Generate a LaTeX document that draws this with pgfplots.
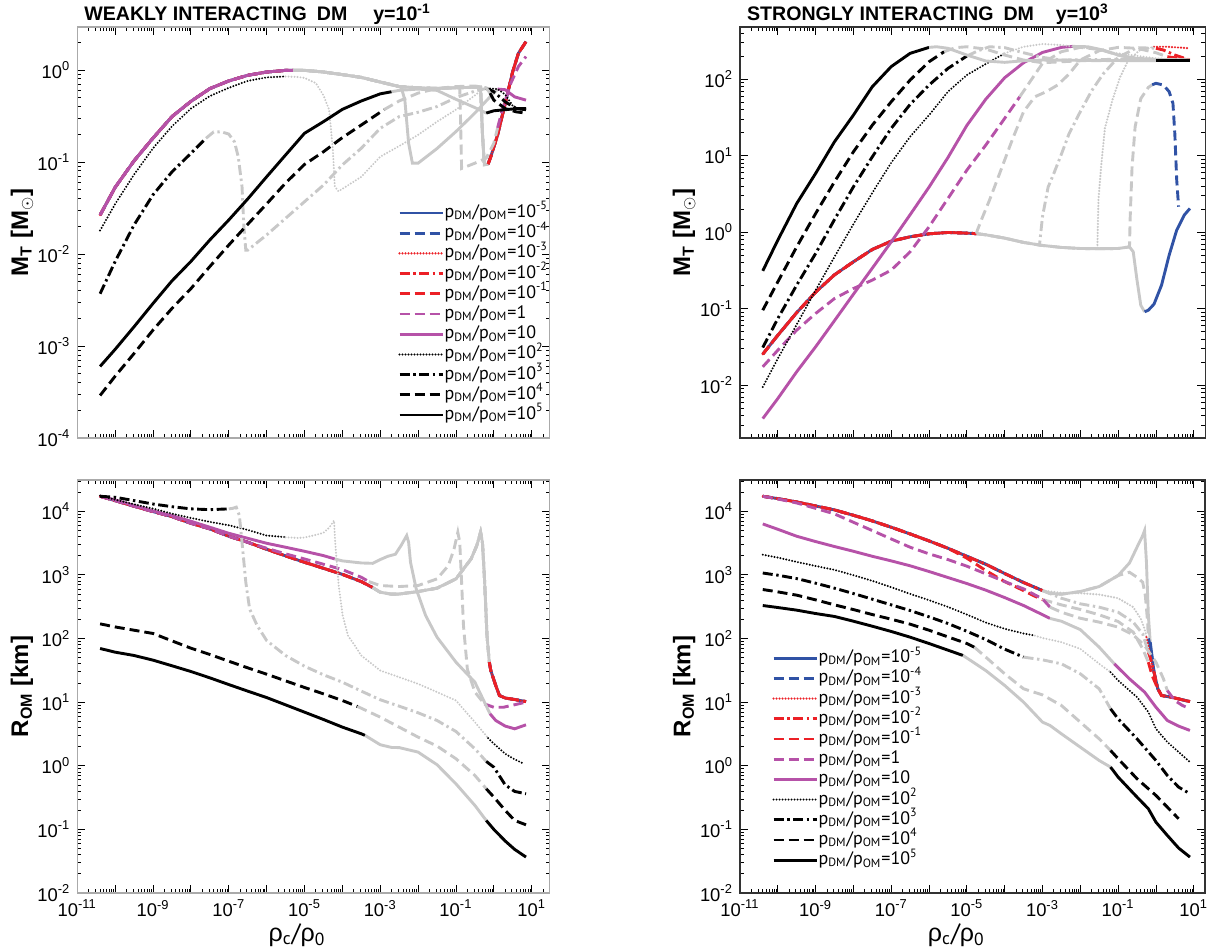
\documentclass[border=0pt]{standalone}
\usepackage{pgfplots}
\usepackage{pgfplotstable}
\pgfplotsset{compat=1.18}
\usepackage{fontspec}
\setmainfont{PT Sans}
\newfontfamily\lsans{Liberation Sans}
\definecolor{cB}{RGB}{48,82,165}
\definecolor{cR}{RGB}{236,32,38}
\definecolor{cM}{RGB}{182,82,168}
\definecolor{cG}{RGB}{200,200,200}
\def\minorX{2e-11}%
\foreach \e in {-11,...,0}{\foreach \m in {2,...,9}{\xdef\minorX{\minorX,\m e\e}}}%
\xdef\minorX{\minorX,2e1}%
\def\minorA{2e-4}%
\foreach \e in {-4,...,-1}{\foreach \m in {2,...,9}{\xdef\minorA{\minorA,\m e\e}}}%
\xdef\minorA{\minorA,2e0}%
\def\minorB{3e-3,4e-3,5e-3,6e-3,7e-3,8e-3,9e-3}%
\foreach \e in {-2,...,1}{\foreach \m in {2,...,9}{\xdef\minorB{\minorB,\m e\e}}}%
\xdef\minorB{\minorB,2e2,3e2,4e2}%
\def\minorC{2e-2}%
\foreach \e in {-2,...,3}{\foreach \m in {2,...,9}{\xdef\minorC{\minorC,\m e\e}}}%
\xdef\minorC{\minorC,2e4,3e4}%
\pgfplotsset{
 lwd/.style={line width=1.45pt},
 s1/.style={cB,lwd,solid},
 s2/.style={cB,lwd,dash pattern=on 5pt off 2.5pt},
 s3/.style={cR,line width=1.2pt,line cap=round,dash pattern=on 0pt off 1.5pt},
 s4/.style={cR,lwd,dash pattern=on 5pt off 1.8pt on 1.2pt off 1.8pt},
 s5/.style={cR,lwd,dash pattern=on 5pt off 2.5pt},
 s6/.style={cM,lwd,dash pattern=on 5pt off 2.5pt},
 s7/.style={cM,lwd,solid},
 s8/.style={black,line width=1.1pt,line cap=round,dash pattern=on 0pt off 1.5pt},
 s9/.style={black,lwd,dash pattern=on 5pt off 1.8pt on 1.2pt off 1.8pt},
 s10/.style={black,lwd,dash pattern=on 5pt off 2.5pt},
 s11/.style={black,lwd,solid},
 gr/.style={cG,forget plot},
 fp/.style={forget plot},
 legend image code/.code={\draw[#1] (0pt,0pt) -- (21.5pt,0pt);},
 every axis title shift=0pt,
 every axis/.append style={
  xmode=log, ymode=log, scale only axis, xmin=1e-11,
  xtick={1e-11,1e-10,1e-9,1e-8,1e-7,1e-6,1e-5,1e-4,1e-3,1e-2,1e-1,1,10},
  xticklabels={},
  tick align=inside, major tick length=4pt, minor tick length=2pt,
  tick style={black,line width=0.4pt},
  tick label style={font=\lsans\fontsize{9.2}{10}\selectfont},
  no markers, clip=true,
  label style={font=\lsans\bfseries\fontsize{12}{13}\selectfont},
  ylabel style={at={(axis description cs:-0.117,0.5)},anchor=center},
  xlabel style={at={(axis description cs:0.465,0)},anchor=center,yshift=-21pt,font=\fontsize{12.5}{13}\selectfont},
  title style={at={(axis description cs:0,1)},anchor=base west,yshift=3.3pt,font=\lsans\bfseries\fontsize{9.8}{11}\selectfont},
  legend style={draw=none,fill=none,inner sep=0pt,outer sep=0pt,font=\fontsize{9}{10}\selectfont,row sep=0pt,cells={anchor=west},nodes={inner sep=0.3pt,text height=7pt,text depth=2.5pt}},
 },
}
% shared data
\pgfplotstableread{
x y
4e-11 0.0265
1e-10 0.053
3.16e-10 0.103
1e-9 0.182
3.16e-9 0.311
1e-8 0.456
3.16e-8 0.627
1e-7 0.76
3.16e-7 0.875
1e-6 0.95
3.16e-6 0.99
5e-6 0.99
}\tlHead
\pgfplotstableread{
x y
5e-6 0.99
1e-5 0.99
3.16e-5 0.95
1e-4 0.89
3.16e-4 0.83
1e-3 0.74
3.16e-3 0.66
1e-2 0.64
3.16e-2 0.63
0.1 0.64
0.316 0.65
0.447 0.65
0.5 0.205
0.562 0.093
0.708 0.095
}\tlMid
\pgfplotstableread{
x y
0.708 0.095
0.832 0.114
1.26 0.197
2.0 0.434
3.16 0.96
4.47 1.52
7.08 2.03
}\tlTail
\pgfplotstableread{
x y
4e-11 17200
1e-10 14700
3.16e-10 12000
1e-9 9890
3.16e-9 8240
1e-8 6480
3.16e-8 5290
1e-7 4050
3.16e-7 3260
1e-6 2530
3.16e-6 1990
1e-5 1580
3.16e-5 1270
1e-4 1020
3.16e-4 785
6.31e-4 632
}\blHead
\pgfplotstableread{
x y
6.31e-4 632
1e-3 534
2e-3 497
3.16e-3 500
1e-2 547
3.16e-2 618
0.1 865
0.251 1780
0.355 2890
0.447 4680
0.5 3260
0.562 977
0.661 111
0.759 42.5
}\blMid
\pgfplotstableread{
x y
0.759 42.5
0.832 31.4
1.122 18.3
1.41 12.7
2.0 11.6
3.55 11.0
7.08 10.2
}\blTail
\pgfplotstableread{
x y
4e-11 0.0255
1e-10 0.045
3.16e-10 0.089
1e-9 0.165
3.16e-9 0.278
1e-8 0.411
3.16e-8 0.596
1e-7 0.766
3.16e-7 0.873
1e-6 0.955
3.16e-6 0.995
1e-5 0.975
1.78e-5 0.96
}\trHead
\pgfplotstableread{
x y
4e-11 17200
1e-10 15800
3.16e-10 14000
1e-9 12100
3.16e-9 10500
1e-8 8650
3.16e-8 7050
1e-7 5610
3.16e-7 4400
1e-6 3420
3.16e-6 2620
1e-5 1960
3.16e-5 1470
1e-4 1050
3.16e-4 759
1e-3 567
}\brHead
\pgfplotstableread{
x y
0.631 61
0.708 50
0.891 29.6
1.122 16.2
1.41 12.7
2.51 12.0
7.94 10.2
}\brTail
\begin{document}%
\begin{tikzpicture}
\useasboundingbox (0,0) rectangle (606pt,475pt);
% ================= TOP LEFT =================
\begin{axis}[at={(38.65pt,256pt)}, anchor=south west, width=236.2pt, height=205.5pt,
 xmax=29.9, ymin=1e-4, ymax=2.93,
 minor xtick/.expand once=\minorX, minor ytick/.expand once=\minorA,
 ytick={1e-4,1e-3,1e-2,1e-1,1},
 yticklabels={10\textsuperscript{-4},10\textsuperscript{-3},10\textsuperscript{-2},10\textsuperscript{-1},10\textsuperscript{0}},
 axis line style={cG!85!black,line width=0.7pt},
 ylabel={M\textsubscript{T} [M\textsubscript{$\odot$}]},
 title={WEAKLY INTERACTING\hspace{5pt}DM\hspace{13pt}y=10\textsuperscript{-1}},
 legend style={at={(0.679,0.572)},anchor=north west}]
% p <= 0.1
\addplot[s1] table {\tlHead}; \addlegendentry{p\textsubscript{DM}/p\textsubscript{OM}=10\textsuperscript{-5}}
\addplot[s1,gr] table {\tlMid}; \addplot[s1,fp] table {\tlTail};
\addplot[s2] table {\tlHead}; \addlegendentry{p\textsubscript{DM}/p\textsubscript{OM}=10\textsuperscript{-4}}
\addplot[s2,gr] table {\tlMid}; \addplot[s2,fp] table {\tlTail};
\addplot[s3] table {\tlHead}; \addlegendentry{p\textsubscript{DM}/p\textsubscript{OM}=10\textsuperscript{-3}}
\addplot[s3,gr] table {\tlMid}; \addplot[s3,fp] table {\tlTail};
\addplot[s4] table {\tlHead}; \addlegendentry{p\textsubscript{DM}/p\textsubscript{OM}=10\textsuperscript{-2}}
\addplot[s4,gr] table {\tlMid}; \addplot[s4,fp] table {\tlTail};
\addplot[s5] table {\tlHead}; \addlegendentry{p\textsubscript{DM}/p\textsubscript{OM}=10\textsuperscript{-1}}
\addplot[s5,gr] table {\tlMid}; \addplot[s5,fp] table {\tlTail};
% p = 1
\addplot[s6] table {\tlHead}; \addlegendentry{p\textsubscript{DM}/p\textsubscript{OM}=1}
\addplot[s6,gr] coordinates {(5e-6,0.99)(1e-5,0.99)(3.16e-5,0.95)(1e-4,0.89)(3.16e-4,0.83)(1e-3,0.74)(3.16e-3,0.66)(1e-2,0.64)(3.16e-2,0.63)(0.1,0.64)(0.126,0.64)(0.132,0.3)(0.141,0.085)(0.316,0.097)(0.631,0.11)(1,0.16)(1.26,0.235)};
\addplot[s6,fp] coordinates {(1.26,0.235)(1.585,0.34)(2.82,0.72)(4.47,1.09)(7.08,1.4)};
% p = 10
\addplot[s7] table {\tlHead}; \addlegendentry{p\textsubscript{DM}/p\textsubscript{OM}=10}
\addplot[s7,gr] coordinates {(5e-6,0.99)(1e-5,0.99)(3.16e-5,0.95)(1e-4,0.89)(3.16e-4,0.83)(1e-3,0.74)(3.16e-3,0.66)(3.55e-3,0.66)(4.47e-3,0.47)(5.62e-3,0.16)(7.08e-3,0.097)(1e-2,0.097)(3.16e-2,0.14)(0.1,0.214)(0.316,0.34)(0.794,0.51)(1.26,0.62)};
\addplot[s7,fp] coordinates {(1.26,0.62)(2.0,0.61)(3.55,0.51)(7.08,0.47)};
% p = 1e2
\addplot[s8] coordinates {(4e-11,0.018)(1e-10,0.035)(3.16e-10,0.073)(1e-9,0.141)(3.16e-9,0.244)(1e-8,0.38)(3.16e-8,0.52)(1e-7,0.64)(3.16e-7,0.76)(1e-6,0.83)(3.16e-6,0.85)}; \addlegendentry{p\textsubscript{DM}/p\textsubscript{OM}=10\textsuperscript{2}}
\addplot[s8,gr] coordinates {(3.16e-6,0.85)(6.31e-6,0.84)(1e-5,0.82)(2e-5,0.72)(3.16e-5,0.53)(4.47e-5,0.37)(5.62e-5,0.135)(6.31e-5,0.054)(7.94e-5,0.048)(3.16e-4,0.069)(1e-3,0.114)(3.16e-3,0.149)(1e-2,0.197)(3.16e-2,0.274)(0.1,0.37)(0.316,0.53)(0.5,0.61)(0.794,0.63)};
\addplot[s8,fp] coordinates {(0.794,0.63)(1.26,0.62)(2.0,0.54)(3.55,0.38)};
% p = 1e3
\addplot[s9] coordinates {(4e-11,0.0037)(1e-10,0.0083)(3.16e-10,0.0207)(1e-9,0.044)(3.16e-9,0.078)(1e-8,0.124)(2.51e-8,0.181)}; \addlegendentry{p\textsubscript{DM}/p\textsubscript{OM}=10\textsuperscript{3}}
\addplot[s9,gr] coordinates {(2.51e-8,0.181)(3.98e-8,0.212)(6.31e-8,0.213)(1e-7,0.201)(1.41e-7,0.166)(1.78e-7,0.114)(2.24e-7,0.054)(2.51e-7,0.0198)(2.82e-7,0.011)(3.16e-7,0.011)(1e-6,0.0161)(3.16e-6,0.0244)(1e-5,0.037)(3.16e-5,0.056)(1e-4,0.093)(3.16e-4,0.141)(1e-3,0.232)(3.16e-3,0.311)(1e-2,0.347)(3.16e-2,0.40)(0.1,0.50)(0.316,0.59)(0.631,0.63)};
\addplot[s9,fp] coordinates {(0.631,0.63)(1,0.58)(2.0,0.45)(3.98,0.38)(7.08,0.37)};
% p = 1e4
\addplot[s10] coordinates {(4e-11,2.9e-4)(1e-10,4.7e-4)(3.16e-10,8.3e-4)(1e-9,1.49e-3)(3.16e-9,2.56e-3)(1e-8,4.2e-3)(3.16e-8,7.3e-3)(1e-7,0.0125)(3.16e-7,0.021)(1e-6,0.035)(3.16e-6,0.059)(1e-5,0.094)(3.16e-5,0.129)(1e-4,0.184)(3.16e-4,0.252)(1e-3,0.347)(1.26e-3,0.37)}; \addlegendentry{p\textsubscript{DM}/p\textsubscript{OM}=10\textsuperscript{4}}
\addplot[s10,gr] coordinates {(1.26e-3,0.37)(3.16e-3,0.46)(1e-2,0.56)(3.16e-2,0.63)(0.1,0.66)(0.316,0.67)(0.631,0.64)(0.794,0.56)};
\addplot[s10,fp] coordinates {(0.794,0.56)(1,0.47)(2,0.38)(3.98,0.35)(7.08,0.34)};
% p = 1e5
\addplot[s11] coordinates {(4e-11,6.0e-4)(1e-10,9.2e-4)(3.16e-10,1.62e-3)(1e-9,2.9e-3)(3.16e-9,5.1e-3)(1e-8,8.3e-3)(3.16e-8,0.0142)(1e-7,0.0234)(3.16e-7,0.0396)(1e-6,0.069)(3.16e-6,0.119)(1e-5,0.205)(3.16e-5,0.274)(1e-4,0.373)(3.16e-4,0.46)(1e-3,0.55)(2e-3,0.58)}; \addlegendentry{p\textsubscript{DM}/p\textsubscript{OM}=10\textsuperscript{5}}
\addplot[s11,gr] coordinates {(2e-3,0.58)(3.16e-3,0.60)(1e-2,0.62)(3.16e-2,0.60)(0.1,0.48)(0.316,0.39)(0.631,0.34)};
\addplot[s11,fp] coordinates {(0.631,0.34)(1,0.36)(2,0.37)(3.98,0.38)(7.08,0.38)};
\end{axis}
% ================= TOP RIGHT =================
\begin{axis}[at={(370pt,256pt)}, anchor=south west, width=232.6pt, height=205.5pt,
 xmax=20.1, ymin=2.04e-3, ymax=484,
 minor xtick/.expand once=\minorX, minor ytick/.expand once=\minorB,
 ytick={1e-2,1e-1,1,10,100},
 yticklabels={10\textsuperscript{-2},10\textsuperscript{-1},10\textsuperscript{0},10\textsuperscript{1},10\textsuperscript{2}},
 axis line style={black!80,line width=0.7pt},
 ylabel={M\textsubscript{T} [M\textsubscript{$\odot$}]},
 ylabel style={at={(axis description cs:-0.12,0.5)}},
 title={STRONGLY INTERACTING\hspace{5pt}DM\hspace{11pt}y=10\textsuperscript{3}}]
% 1e-5
\addplot[s1] table {\trHead};
\addplot[s1,gr] coordinates {(1.78e-5,0.96)(3.16e-5,0.927)(1e-4,0.839)(3.16e-4,0.737)(1e-3,0.673)(3.16e-3,0.634)(1e-2,0.614)(3.16e-2,0.61)(0.1,0.614)(0.2,0.645)(0.251,0.556)(0.316,0.237)(0.398,0.111)(0.501,0.0912)};
\addplot[s1,fp] coordinates {(0.501,0.0912)(0.631,0.0958)(0.891,0.115)(1.41,0.204)(2.24,0.503)(3.55,1.07)(5.62,1.68)(7.94,2.05)};
% 1e-4
\addplot[s2] table {\trHead};
\addplot[s2,gr] coordinates {(1.78e-5,0.96)(3.16e-5,0.927)(1e-4,0.839)(3.16e-4,0.737)(1e-3,0.673)(3.16e-3,0.634)(1e-2,0.614)(3.16e-2,0.61)(0.1,0.614)(0.2,0.645)(0.209,1.6)(0.234,7.2)(0.282,24)(0.398,56)(0.631,78.5)(0.794,85)};
\addplot[s2,fp] coordinates {(0.794,85)(1,88.7)(1.585,84.3)(2.24,69)(2.82,48.5)(3.16,19.6)(3.55,4.8)(3.98,2.16)};
% 1e-3
\addplot[s3] table {\trHead};
\addplot[s3,gr] coordinates {(1.78e-5,0.96)(3.16e-5,0.927)(1e-4,0.839)(3.16e-4,0.737)(1e-3,0.673)(3.16e-3,0.634)(1e-2,0.614)(2.82e-2,0.61)(3.02e-2,2.64)(3.55e-2,7.2)(4.47e-2,22.9)(7.08e-2,53.7)(0.112,106)(0.178,170)(0.355,237)(0.891,267)};
\addplot[s3,fp] coordinates {(0.891,267)(2,267)(7.94,255)};
% 1e-2
\addplot[s4] table {\trHead};
\addplot[s4,gr] coordinates {(1.78e-5,0.96)(3.16e-5,0.927)(1e-4,0.839)(3.16e-4,0.737)(8.32e-4,0.68)(1e-3,1.6)(1.41e-3,3.9)(2e-3,5.9)(3.16e-3,10.5)(5.01e-3,19.3)(1e-2,37.8)(2e-2,71)(3.98e-2,117)(0.1,194)(0.316,260)(1,255)};
\addplot[s4,fp] coordinates {(1,255)(1.585,242)(3.16,208)(7.94,179)};
% 1e-1
\addplot[s5] table {\trHead};
\addplot[s5,gr] coordinates {(1.78e-5,0.96)(1.905e-5,1.07)(2.51e-5,1.52)(3.98e-5,2.64)(7.94e-5,6.5)(1.58e-4,16.1)(3.16e-4,37.8)(6.31e-4,59.3)(1.26e-3,69)(2.51e-3,84.3)(5.01e-3,117)(1e-2,179)(3.16e-2,237)(0.1,262)(0.316,255)(1,223)(2,198)};
\addplot[s5,fp] coordinates {(2,198)(7.94,179)};
% 1
\addplot[s6] coordinates {(4e-11,0.0174)(1e-10,0.0287)(3.16e-10,0.0525)(1e-9,0.0867)(3.16e-9,0.136)(1e-8,0.184)(3.16e-8,0.237)(1e-7,0.32)(3.16e-7,0.556)(1e-6,1.18)(3.16e-6,2.77)(1e-5,6.5)(3.16e-5,13.8)(1e-4,30.9)(2.51e-4,59.3)};
\addplot[s6,gr] coordinates {(2.51e-4,59.3)(5.01e-4,98)(1e-3,162)(3.16e-3,230)(1e-2,262)(3.16e-2,247)(0.1,208)(0.316,183)(2,179)(7.94,179)};
% 10
\addplot[s7] coordinates {(4e-11,3.66e-3)(1e-10,6.7e-3)(3.16e-10,0.015)(1e-9,0.0318)(3.16e-9,0.07)(1e-8,0.155)(3.16e-8,0.34)(1e-7,0.75)(3.16e-7,1.7)(1e-6,3.9)(3.16e-6,9.5)(1e-5,25)(3.16e-5,55)(1e-4,105)(3.16e-4,165)(1e-3,225)(3.16e-3,262)(6.31e-3,270)};
\addplot[s7,gr] coordinates {(6.31e-3,270)(1.58e-2,267)(3.98e-2,242)(0.1,208)(0.316,188)(1,183)(7.94,179)};
% 1e2
\addplot[s8] coordinates {(4e-11,9.5e-3)(1e-10,0.0223)(3.16e-10,0.0622)(1e-9,0.175)(3.16e-9,0.478)(1e-8,1.28)(3.16e-8,3.29)(1e-7,8.13)(3.16e-7,17.8)(1e-6,34.1)(3.16e-6,69)(1e-5,114)(3.16e-5,159)(1e-4,219)};
\addplot[s8,gr] coordinates {(1e-4,219)(3.16e-4,267)(1e-3,290)(3.16e-3,281)(1e-2,262)(0.1,219)(1,188)(7.94,179)};
% 1e3
\addplot[s9] coordinates {(4e-11,0.0311)(1e-10,0.0745)(3.16e-10,0.204)(1e-9,0.528)(3.16e-9,1.47)(1e-8,3.94)(3.16e-8,9.72)(1e-7,22.9)(3.16e-7,47.1)(1e-6,84.3)(3.16e-6,139)(1e-5,202)};
\addplot[s9,gr] coordinates {(1e-5,202)(2e-5,237)(3.98e-5,267)(1e-4,260)(3.16e-4,223)(1e-3,194)(3.16e-3,179)(0.1,183)(7.94,179)};
% 1e4
\addplot[s10] coordinates {(4e-11,0.0958)(1e-10,0.225)(3.16e-10,0.645)(1e-9,1.76)(3.16e-9,4.58)(1e-8,11.3)(3.16e-8,25.2)(1e-7,51)(3.16e-7,98)(1e-6,170)(2.51e-6,230)};
\addplot[s10,gr] coordinates {(2.51e-6,230)(5.01e-6,260)(1e-5,267)(3.16e-5,249)(1e-4,208)(3.16e-4,179)(1e-3,165)(1e-2,175)(7.94,179)};
% 1e5
\addplot[s11] coordinates {(4e-11,0.313)(1e-10,0.789)(3.16e-10,2.38)(1e-9,5.89)(3.16e-9,15.3)(1e-8,34.1)(3.16e-8,80.2)(1e-7,147)(3.16e-7,219)(1e-6,262)};
\addplot[s11,gr] coordinates {(1e-6,262)(1.58e-6,267)(3.16e-6,255)(1e-5,208)(3.16e-5,174)(1e-4,167)(3.16e-4,175)(1e-3,179)(1,175)};
\addplot[s11,fp] coordinates {(1,175)(7.94,175)};
\end{axis}
% ================= BOTTOM LEFT =================
\begin{axis}[at={(38.65pt,28.5pt)}, anchor=south west, width=236.2pt, height=206.5pt,
 xmax=29.9, ymin=1e-2, ymax=3.1e4,
 xticklabels={10\textsuperscript{-11},{},10\textsuperscript{-9},{},10\textsuperscript{-7},{},10\textsuperscript{-5},{},10\textsuperscript{-3},{},10\textsuperscript{-1},{},10\textsuperscript{1}},
 xlabel={{\lsans ρ}\textsubscript{c}/{\lsans ρ}\textsubscript{0}},
 minor xtick/.expand once=\minorX, minor ytick/.expand once=\minorC,
 ytick={1e-2,1e-1,1,10,100,1000,10000},
 yticklabels={10\textsuperscript{-2},10\textsuperscript{-1},10\textsuperscript{0},10\textsuperscript{1},10\textsuperscript{2},10\textsuperscript{3},10\textsuperscript{4}},
 axis line style={cG!85!black,line width=0.7pt},
 ylabel={R\textsubscript{OM} [km]}]
\addplot[s1] table {\blHead}; \addplot[s1,gr] table {\blMid}; \addplot[s1,fp] table {\blTail};
\addplot[s2] table {\blHead}; \addplot[s2,gr] table {\blMid}; \addplot[s2,fp] table {\blTail};
\addplot[s3] table {\blHead}; \addplot[s3,gr] table {\blMid}; \addplot[s3,fp] table {\blTail};
\addplot[s4] table {\blHead}; \addplot[s4,gr] table {\blMid}; \addplot[s4,fp] table {\blTail};
\addplot[s5] table {\blHead}; \addplot[s5,gr] table {\blMid}; \addplot[s5,fp] table {\blTail};
% 1
\addplot[s6] coordinates {(4e-11,17200)(1e-10,14700)(3.16e-10,12000)(1e-9,9890)(3.16e-9,8240)(1e-8,6480)(3.16e-8,5290)(1e-7,4050)(3.16e-7,3260)(1e-6,2620)(3.16e-6,2140)(1e-5,1780)(3.16e-5,1470)(1e-4,1210)(3.16e-4,918)(5e-4,785)};
\addplot[s6,gr] coordinates {(5e-4,785)(1e-3,680)(3.16e-3,656)(1e-2,680)(3.16e-2,865)(6.31e-2,1400)(8.91e-2,2560)(0.112,4680)(0.126,3260)(0.141,767)(0.158,160)(0.2,33)(0.316,14.4)(0.562,9.4)};
\addplot[s6,fp] coordinates {(0.562,9.4)(1,8.3)(1.78,8.3)(3.55,9.1)(7.08,10)};
% 10
\addplot[s7] coordinates {(4e-11,17200)(1e-10,15100)(3.16e-10,12300)(1e-9,10100)(3.16e-9,8550)(1e-8,6970)(3.16e-8,5610)(1e-7,4510)(3.16e-7,3760)(1e-6,3140)(3.16e-6,2720)(1e-5,2350)(3.16e-5,2010)(6.31e-5,1780)};
\addplot[s7,gr] coordinates {(6.31e-5,1780)(1e-4,1660)(3.16e-4,1540)(6.31e-4,1520)(1e-3,1740)(1.58e-3,1960)(2.51e-3,2110)(3.55e-3,2890)(5.01e-3,4150)(5.62e-3,3260)(6.31e-3,1580)(8.91e-3,603)(1.58e-2,230)(3.16e-2,105)(0.1,42.5)(0.316,20.6)(0.794,6.56)};
\addplot[s7,fp] coordinates {(0.794,6.56)(1.122,5.15)(2.0,4.2)(3.55,3.81)(7.08,4.4)};
% 1e2
\addplot[s8] coordinates {(4e-11,17600)(1e-10,15200)(3.16e-10,12900)(1e-9,11000)(3.16e-9,9190)(1e-8,7850)(3.16e-8,6810)(1e-7,6030)(3.16e-7,5090)(1e-6,4150)(3.16e-6,3910)};
\addplot[s8,gr] coordinates {(3.16e-6,3910)(6.31e-6,3810)(1e-5,3860)(2e-5,4250)(3.16e-5,4600)(4.47e-5,5500)(6.03e-5,7130)(6.46e-5,3260)(8.0e-5,679)(1.02e-4,230)(1.41e-4,111)(2e-4,82)(3.16e-4,54.1)(1e-3,31.4)(3.16e-3,24.7)(1e-2,19.4)(3.16e-2,14.4)(0.1,10.6)(0.316,4.85)(0.708,2.72)};
\addplot[s8,fp] coordinates {(0.708,2.72)(1,2.22)(2,1.54)(3.55,1.26)(5.62,1.11)};
% 1e3
\addplot[s9] coordinates {(4e-11,17200)(1e-10,16600)(3.16e-10,14700)(1e-9,13000)(3.16e-9,11800)(1e-8,10900)(3.16e-8,10600)(1e-7,10900)};
\addplot[s9,gr] coordinates {(1e-7,10900)(1.26e-7,11100)(1.58e-7,11600)(1.91e-7,8550)(2.24e-7,3260)(2.82e-7,767)(3.55e-7,292)(5.62e-7,160)(1e-6,93)(3.16e-6,54.1)(1e-5,36.7)(3.16e-5,26.9)(1e-4,20.6)(3.16e-4,14.9)(1e-3,10.9)(3.16e-3,8.65)(1e-2,6.8)(3.16e-2,5.15)(0.1,3.46)(0.316,1.85)(0.631,1.17)};
\addplot[s9,fp] coordinates {(0.631,1.17)(1,0.95)(2,0.50)(3.55,0.395)(7.08,0.363)};
% 1e4
\addplot[s10] coordinates {(4e-11,170)(1e-10,152)(3.16e-10,135)(1e-9,120)(3.16e-9,91.8)(1e-8,70.5)(3.16e-8,56.1)(1e-7,44)(3.16e-7,34.6)(1e-6,27.5)(3.16e-6,21.6)(1e-5,17)(3.16e-5,13.5)(1e-4,10.6)(2.51e-4,8.55)};
\addplot[s10,gr] coordinates {(2.51e-4,8.55)(1e-3,5.81)(3.16e-3,4.05)(1e-2,2.82)(3.16e-2,2.04)(0.1,1.29)(0.316,0.705)(0.631,0.435)};
\addplot[s10,fp] coordinates {(0.631,0.435)(1,0.322)(2,0.199)(3.55,0.138)(7.08,0.118)};
% 1e5
\addplot[s11] coordinates {(4e-11,69.7)(1e-10,61)(3.16e-10,54.1)(1e-9,45.7)(3.16e-9,37.3)(1e-8,30.3)(3.16e-8,24.1)(1e-7,18.9)(3.16e-7,14.9)(1e-6,11.8)(3.16e-6,9.07)(1e-5,6.96)(3.16e-5,5.34)(1e-4,4.05)(3.16e-4,3.18)(3.98e-4,3.0)};
\addplot[s11,gr] coordinates {(3.98e-4,3.0)(1e-3,2.14)(2e-3,1.94)(3.16e-3,1.93)(1e-2,1.64)(3.16e-2,1.04)(0.1,0.52)(0.316,0.238)(0.631,0.138)};
\addplot[s11,fp] coordinates {(0.631,0.138)(1,0.1)(2,0.0656)(3.55,0.0485)(7.08,0.0367)};
\end{axis}
% ================= BOTTOM RIGHT =================
\begin{axis}[at={(370pt,28.5pt)}, anchor=south west, width=232.6pt, height=206.5pt,
 xmax=20.1, ymin=1e-2, ymax=3.1e4,
 xticklabels={10\textsuperscript{-11},{},10\textsuperscript{-9},{},10\textsuperscript{-7},{},10\textsuperscript{-5},{},10\textsuperscript{-3},{},10\textsuperscript{-1},{},10\textsuperscript{1}},
 xlabel={{\lsans ρ}\textsubscript{c}/{\lsans ρ}\textsubscript{0}},
 minor xtick/.expand once=\minorX, minor ytick/.expand once=\minorC,
 ytick={1e-2,1e-1,1,10,100,1000,10000},
 yticklabels={10\textsuperscript{-2},10\textsuperscript{-1},10\textsuperscript{0},10\textsuperscript{1},10\textsuperscript{2},10\textsuperscript{3},10\textsuperscript{4}},
 axis line style={black!80,line width=0.7pt},
 ylabel={R\textsubscript{OM} [km]},
 ylabel style={at={(axis description cs:-0.12,0.5)}},
 legend style={at={(0.069,0.593)},anchor=north west}]
% 1e-5
\addplot[s1] table {\brHead}; \addlegendentry{p\textsubscript{DM}/p\textsubscript{OM}=10\textsuperscript{-5}}
\addplot[s1,gr] coordinates {(1e-3,567)(1.58e-3,512)(3.16e-3,497)(1e-2,547)(3.16e-2,656)(0.1,977)(0.2,1540)(0.316,2720)(0.447,4150)(0.501,4970)(0.562,1580)(0.631,230)(0.708,87.5)};
\addplot[s1,fp] coordinates {(0.708,87.5)(0.891,29.6)(1.122,16.2)(1.41,12.7)(2.51,12.0)(7.94,10.2)};
% 1e-4
\addplot[s2] table {\brHead}; \addlegendentry{p\textsubscript{DM}/p\textsubscript{OM}=10\textsuperscript{-4}}
\addplot[s2,gr] coordinates {(1e-3,567)(1.58e-3,512)(3.16e-3,497)(1e-2,547)(3.16e-2,656)(0.1,977)(0.2,1100)(0.316,918)(0.447,767)(0.525,473)(0.603,181)(0.631,100)};
\addplot[s2,fp] coordinates {(0.631,100)(0.708,77.6)(0.891,29.6)(1.122,16.2)(1.41,12.7)(2.51,12.0)(7.94,10.2)};
% 1e-3
\addplot[s3] table {\brHead}; \addlegendentry{p\textsubscript{DM}/p\textsubscript{OM}=10\textsuperscript{-3}}
\addplot[s3,gr] coordinates {(1e-3,567)(3.16e-3,521)(1e-2,515)(3.16e-2,491)(0.1,430)(0.251,311)(0.398,204)(0.501,142)(0.562,105)};
\addplot[s3,fp] coordinates {(0.562,105)(0.631,77.6)(0.794,37.7)(1.122,16.2)(1.41,12.7)(2.51,12.0)(7.94,10.2)};
% 1e-2
\addplot[s4] table {\brHead}; \addlegendentry{p\textsubscript{DM}/p\textsubscript{OM}=10\textsuperscript{-2}}
\addplot[s4,gr] coordinates {(1e-3,567)(3.16e-3,430)(1e-2,351)(3.16e-2,311)(0.1,259)(0.251,181)(0.447,118)(0.631,61)};
\addplot[s4,fp] table {\brTail};
% 1e-1
\addplot[s5] coordinates {(4e-11,17200)(1e-10,15800)(3.16e-10,14000)(1e-9,12100)(3.16e-9,10500)(1e-8,8650)(3.16e-8,7050)(1e-7,5610)(3.16e-7,4400)(1e-6,3420)(3.16e-6,2620)(1e-5,1830)(3.16e-5,1170)(1e-4,785)(3.16e-4,567)(6.31e-4,462)(1e-3,410)}; \addlegendentry{p\textsubscript{DM}/p\textsubscript{OM}=10\textsuperscript{-1}}
\addplot[s5,gr] coordinates {(1e-3,410)(3.16e-3,338)(1e-2,286)(3.16e-2,236)(0.1,185)(0.251,126)(0.447,68.9)(0.631,42.5)};
\addplot[s5,fp] coordinates {(0.631,42.5)(0.794,26.2)(1.122,16.2)(1.41,12.7)(2.51,12.0)(7.94,10.2)};
% 1
\addplot[s6] coordinates {(4e-11,17200)(1e-10,15600)(3.16e-10,13500)(1e-9,11100)(3.16e-9,9080)(1e-8,6710)(3.16e-8,4970)(1e-7,3670)(3.16e-7,2720)(1e-6,2140)(3.16e-6,1740)(1e-5,1370)(3.16e-5,1040)(1e-4,785)(3.16e-4,603)(1e-3,420)(1.58e-3,311)}; \addlegendentry{p\textsubscript{DM}/p\textsubscript{OM}=1}
\addplot[s6,gr] coordinates {(1.58e-3,311)(3.16e-3,259)(1e-2,208)(3.16e-2,181)(0.1,151)(0.251,114)(0.501,77.6)(1,42.5)(1.585,23.2)(2,15.2)};
\addplot[s6,fp] coordinates {(2,15.2)(3.16,10.6)(5.01,8.87)(7.94,7.86)};
% 10
\addplot[s7] coordinates {(4e-11,6320)(1e-10,5210)(3.16e-10,4050)(1e-9,3340)(3.16e-9,2790)(1e-8,2350)(3.16e-8,1960)(1e-7,1660)(3.16e-7,1390)(1e-6,1130)(3.16e-6,909)(1e-5,731)(3.16e-5,576)(1e-4,440)(3.16e-4,330)(1e-3,237)(1.58e-3,207)}; \addlegendentry{p\textsubscript{DM}/p\textsubscript{OM}=10}
\addplot[s7,gr] coordinates {(1.58e-3,207)(3.16e-3,187)(1e-2,138)(3.16e-2,73.1)(7.94e-2,40)};
\addplot[s7,fp] coordinates {(7.94e-2,40)(0.2,23.2)(0.501,14.4)(1,8.34)(2,5.15)(3.98,4.2)(7.94,3.59)};
% 1e2
\addplot[s8] coordinates {(4e-11,2080)(1e-10,1870)(3.16e-10,1600)(1e-9,1380)(3.16e-9,1200)(1e-8,988)(3.16e-8,806)(1e-7,640)(3.16e-7,503)(1e-6,400)(3.16e-6,314)(1e-5,238)(3.16e-5,178)(1e-4,142)(3.16e-4,120)(6.31e-4,111)}; \addlegendentry{p\textsubscript{DM}/p\textsubscript{OM}=10\textsuperscript{2}}
\addplot[s8,gr] coordinates {(6.31e-4,111)(1e-3,102)(3.16e-3,87.5)(1e-2,68.9)(3.16e-2,40)(6.31e-2,29.6)};
\addplot[s8,fp] coordinates {(6.31e-2,29.6)(0.1,21.9)(0.316,12.0)(0.631,6.97)(1,3.81)(2,2.36)(3.98,1.64)(7.94,1.14)};
% 1e3
\addplot[s9] coordinates {(4e-11,1070)(1e-10,988)(3.16e-10,875)(1e-9,740)(3.16e-9,618)(1e-8,509)(3.16e-8,415)(1e-7,338)(3.16e-7,275)(1e-6,219)(3.16e-6,172)(1e-5,130)(3.16e-5,96.3)(1e-4,68)(3.16e-4,51)}; \addlegendentry{p\textsubscript{DM}/p\textsubscript{OM}=10\textsuperscript{3}}
\addplot[s9,gr] coordinates {(3.16e-4,51)(1e-3,46.2)(3.16e-3,40)(1e-2,27.9)(3.16e-2,16.2)(6.31e-2,7.86)};
\addplot[s9,fp] coordinates {(6.31e-2,7.86)(0.1,5.47)(0.316,2.65)(1,1.21)(2,0.705)(3.98,0.462)(7.94,0.363)};
% 1e4
\addplot[s10] coordinates {(4e-11,589)(1e-10,541)(3.16e-10,480)(1e-9,405)(3.16e-9,338)(1e-8,285)(3.16e-8,238)(1e-7,201)(3.16e-7,168)(1e-6,135)(3.16e-6,106)(1e-5,83.4)(1.58e-5,73)}; \addlegendentry{p\textsubscript{DM}/p\textsubscript{OM}=10\textsuperscript{4}}
\addplot[s10,gr] coordinates {(1.58e-5,73)(3.16e-5,51)(1e-4,27.9)(3.16e-4,16.2)(1e-3,13.0)(3.16e-3,8.87)(1e-2,4.85)(3.16e-2,2.65)(6.31e-2,1.74)};
\addplot[s10,fp] coordinates {(6.31e-2,1.74)(0.1,1.29)(0.316,0.625)(1,0.342)(2,0.224)(3.98,0.147)};
% 1e5
\addplot[s11] coordinates {(4e-11,330)(1e-10,307)(3.16e-10,279)(1e-9,247)(3.16e-9,222)(1e-8,187)(3.16e-8,156)(1e-7,129)(3.16e-7,105)(1e-6,83.4)(3.16e-6,65.6)(7.94e-6,54.1)}; \addlegendentry{p\textsubscript{DM}/p\textsubscript{OM}=10\textsuperscript{5}}
\addplot[s11,gr] coordinates {(7.94e-6,54.1)(3.16e-5,31.4)(1e-4,18.3)(3.16e-4,10)(1e-3,4.85)(1.58e-3,4.3)(3.16e-3,3.18)(1e-2,1.96)(3.16e-2,1.21)(6.31e-2,0.953)};
\addplot[s11,fp] coordinates {(6.31e-2,0.953)(0.1,0.664)(0.316,0.322)(0.631,0.211)(1,0.13)(2,0.0805)(3.98,0.0509)(7.94,0.0367)};
\end{axis}
\end{tikzpicture}%
\end{document}
